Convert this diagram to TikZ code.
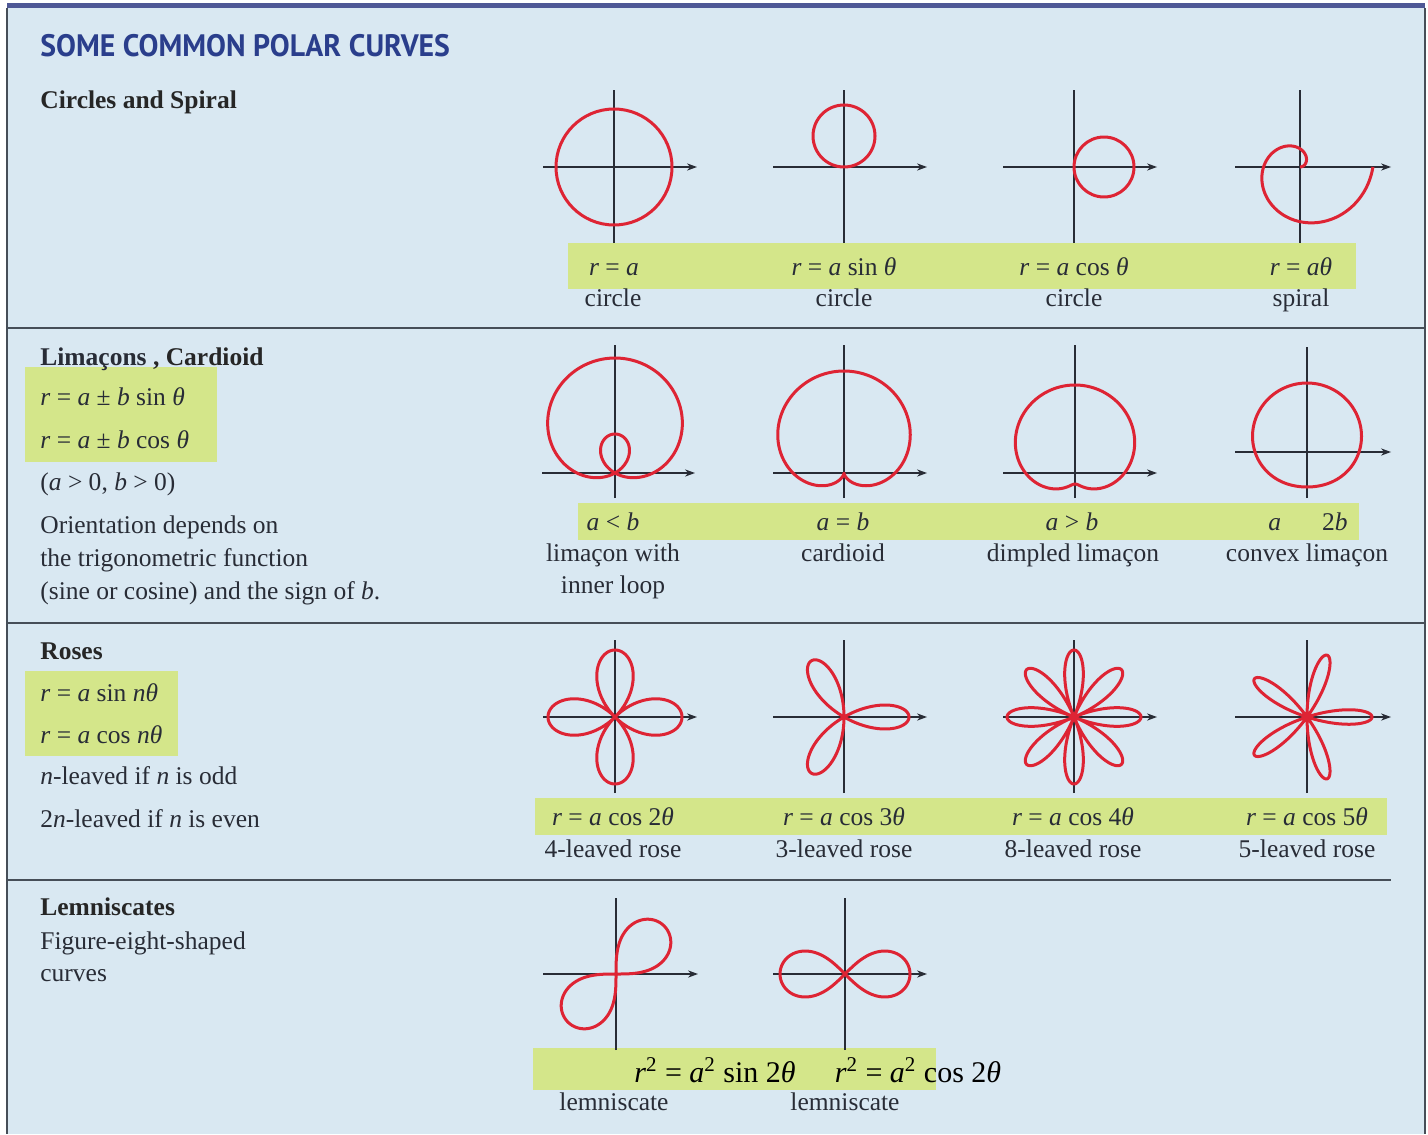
\documentclass[tikz,border=0pt]{standalone}
\usepackage{fontspec}
\setmainfont{Liberation Serif}
\newfontfamily\titlefont{PT Sans}
\usetikzlibrary{arrows.meta}
\definecolor{pBg}{RGB}{217,232,242}
\definecolor{pBar}{RGB}{78,88,150}
\definecolor{pLine}{RGB}{70,78,88}
\definecolor{pGreen}{RGB}{212,230,138}
\definecolor{pRed}{RGB}{222,36,52}
\definecolor{pText}{RGB}{40,44,54}
\definecolor{pTitle}{RGB}{42,62,140}
\newcommand{\mi}[1]{\textit{#1}}
% axes of one small graph: left, right, bottom, top
\newcommand{\polaraxes}[4]{%
  \draw[axisline,-{Stealth[length=5pt,width=3.6pt]}] (#1,0) -- (#2,0);
  \draw[axisline] (0,#3) -- (0,#4);}

\begin{document}
\begin{tikzpicture}[x=0.5pt, y=-0.5pt,
  txt/.style={text=pText, inner sep=0pt, font=\fontsize{12.75}{15}\selectfont},
  lbl/.style={txt, anchor=base},
  side/.style={txt, anchor=base west},
  head/.style={side, text=black!85, font=\fontsize{12.75}{15}\selectfont\bfseries},
  band/.style={fill=pGreen},
  axisline/.style={draw=pText, line width=0.6pt},
  curve/.style={draw=pRed, line width=1.5pt, line join=round}]
  \useasboundingbox (0,0) rectangle (1428,1134);

  % panel
  \fill[white] (0,0) rectangle (1428,1134);
  \fill[pBg] (7,6) rectangle (1425,1134);
  \fill[pBar] (7,3) rectangle (1425,8);
  \draw[pLine, line width=1pt] (7,8) -- (7,1134) (1425,8) -- (1425,1134);
  \draw[pLine, line width=1pt] (7,328) -- (1425,328) (7,623) -- (1425,623) (7,880) -- (1391,880);

  % green bands
  \fill[band] (568,243) rectangle (1356,289);
  \fill[band] (578,503) rectangle (1359,540);
  \fill[band] (535,798) rectangle (1387,835);
  \fill[band] (533,1048) rectangle (936,1090);
  \fill[band] (25,367) rectangle (217,462);
  \fill[band] (25,671) rectangle (178,756);

  % left column
  \node[anchor=base west, inner sep=0pt, xscale=0.96, text=pTitle, font={\titlefont\bfseries\fontsize{15.5}{18}\selectfont}] (title) at (40,57) {SOME COMMON POLAR CURVES};
  \node[head] (hCircles) at (40,109) {Circles and Spiral};
  \node[head] (hLimacon) at (40,365) {\textcolor{pText}{Limaçons} , Cardioid};
  \node[side] (fLimSin) at (40,405) {\mi{r} = \mi{a} ± \mi{b} sin \mi{θ}};
  \node[side] (fLimCos) at (40,448) {\mi{r} = \mi{a} ± \mi{b} cos \mi{θ}};
  \node[side] (cLim) at (40,490) {(\mi{a} > 0, \mi{b} > 0)};
  \node[side] (tLim1) at (40,533) {Orientation depends on};
  \node[side] (tLim2) at (40,566) {the trigonometric function};
  \node[side] (tLim3) at (40,599) {(sine or cosine) and the sign of \mi{b}.};
  \node[head] (hRoses) at (40,659) {Roses};
  \node[side] (fRoseSin) at (40,701) {\mi{r} = \mi{a} sin \mi{nθ}};
  \node[side] (fRoseCos) at (40,743) {\mi{r} = \mi{a} cos \mi{nθ}};
  \node[side] (tRose1) at (40,784) {\mi{n}-leaved if \mi{n} is odd};
  \node[side] (tRose2) at (40,827) {2\mi{n}-leaved if \mi{n} is even};
  \node[head] (hLemn) at (40,915) {Lemniscates};
  \node[side] (tLemn1) at (40,949) {Figure-eight-shaped};
  \node[side] (tLemn2) at (40,981) {curves};

  % circles and spiral
  \begin{scope}[shift={(614,167)}, yscale=-1]
    \polaraxes{-71}{83}{-76}{77}
    \draw[curve] (0,0) circle[radius=58];
  \end{scope}
  \begin{scope}[shift={(844,167)}, yscale=-1]
    \polaraxes{-71}{83}{-76}{77}
    \draw[curve] (0,31) circle[radius=31];
  \end{scope}
  \begin{scope}[shift={(1074,167)}, yscale=-1]
    \polaraxes{-71}{83}{-76}{77}
    \draw[curve] (30,0) circle[radius=30];
  \end{scope}
  \begin{scope}[shift={(1300,167)}, yscale=-1]
    \polaraxes{-65}{91}{-76}{77}
    \draw[curve] plot[domain=0:360, samples=160] ({0.2025*\x*cos(\x)}, {0.2025*\x*sin(\x)});
  \end{scope}
  \node[lbl] (fCircA) at (614,275) {\mi{r} = \mi{a}};
  \node[lbl] (fCircS) at (844,275) {\mi{r} = \mi{a} sin \mi{θ}};
  \node[lbl] (fCircC) at (1074,275) {\mi{r} = \mi{a} cos \mi{θ}};
  \node[lbl] (fSpiral) at (1301,275) {\mi{r} = \mi{aθ}};
  \node[lbl] (nCircA) at (613,306) {circle};
  \node[lbl] (nCircS) at (844,306) {circle};
  \node[lbl] (nCircC) at (1074,306) {circle};
  \node[lbl] (nSpiral) at (1301,306) {spiral};

  % limacons
  \begin{scope}[shift={(615,473)}, yscale=-1]
    \polaraxes{-73}{80}{-25}{128}
    \draw[curve] plot[domain=0:360, samples=240] ({(38+77*sin(\x))*cos(\x)}, {(38+77*sin(\x))*sin(\x)});
  \end{scope}
  \begin{scope}[shift={(844,473)}, yscale=-1]
    \polaraxes{-71}{83}{-25}{128}
    \draw[curve] plot[domain=0:360, samples=240] ({51*(1+sin(\x))*cos(\x)}, {51*(1+sin(\x))*sin(\x)});
  \end{scope}
  \begin{scope}[shift={(1075,473)}, yscale=-1]
    \polaraxes{-72}{82}{-25}{128}
    \draw[curve] plot[domain=0:360, samples=240] ({(49.5+38.5*sin(\x))*cos(\x)}, {(49.5+38.5*sin(\x))*sin(\x)});
  \end{scope}
  \begin{scope}[shift={(1307,452)}, yscale=-1]
    \polaraxes{-72}{84}{-46}{105}
    \draw[curve] plot[domain=0:360, samples=200] ({(52+17*sin(\x))*cos(\x)}, {(52+17*sin(\x))*sin(\x)});
  \end{scope}
  \node[lbl] (cLoop) at (613,530) {\mi{a} < \mi{b}};
  \node[lbl] (cCard) at (843,530) {\mi{a} = \mi{b}};
  \node[lbl] (cDimp) at (1072,530) {\mi{a} > \mi{b}};
  \node[lbl] (cConv) at (1308,530) {\mi{a}\hspace{1.6em}2\mi{b}};
  \node[lbl] (nLoop) at (613,561) {limaçon with};
  \node[lbl] (nLoop2) at (613,593) {inner loop};
  \node[lbl] (nCard) at (843,561) {cardioid};
  \node[lbl] (nDimp) at (1073,561) {dimpled limaçon};
  \node[lbl] (nConv) at (1307,561) {convex limaçon};

  % roses
  \begin{scope}[shift={(615,717)}, yscale=-1]
    \polaraxes{-72}{82}{-76}{77}
    \draw[curve] plot[domain=0:360, samples=300] ({67*cos(2*\x)*cos(\x)}, {67*cos(2*\x)*sin(\x)});
  \end{scope}
  \begin{scope}[shift={(844,717)}, yscale=-1]
    \polaraxes{-71}{83}{-76}{77}
    \draw[curve] plot[domain=0:180, samples=240] ({65*cos(3*\x)*cos(\x)}, {65*cos(3*\x)*sin(\x)});
  \end{scope}
  \begin{scope}[shift={(1074,717)}, yscale=-1]
    \polaraxes{-71}{83}{-76}{77}
    \draw[curve] plot[domain=0:360, samples=480] ({67*cos(4*\x)*cos(\x)}, {67*cos(4*\x)*sin(\x)});
  \end{scope}
  \begin{scope}[shift={(1307,717)}, yscale=-1]
    \polaraxes{-72}{84}{-76}{77}
    \draw[curve] plot[domain=0:180, samples=360] ({65*cos(5*\x)*cos(\x)}, {65*cos(5*\x)*sin(\x)});
  \end{scope}
  \node[lbl] (fRose2) at (613,825) {\mi{r} = \mi{a} cos 2\mi{θ}};
  \node[lbl] (fRose3) at (844,825) {\mi{r} = \mi{a} cos 3\mi{θ}};
  \node[lbl] (fRose4) at (1073,825) {\mi{r} = \mi{a} cos 4\mi{θ}};
  \node[lbl] (fRose5) at (1307,825) {\mi{r} = \mi{a} cos 5\mi{θ}};
  \node[lbl] (nRose2) at (613,857) {4-leaved rose};
  \node[lbl] (nRose3) at (844,857) {3-leaved rose};
  \node[lbl] (nRose4) at (1073,857) {8-leaved rose};
  \node[lbl] (nRose5) at (1307,857) {5-leaved rose};

  % lemniscates
  \begin{scope}[shift={(616,974)}, yscale=-1]
    \polaraxes{-73}{82}{-76}{76}
    \draw[curve, rotate=-45] plot[domain=0:360, samples=240] ({68*cos(\x)/(1+sin(\x)^2)}, {68*sin(\x)*cos(\x)/(1+sin(\x)^2)});
  \end{scope}
  \begin{scope}[shift={(845,974)}, yscale=-1]
    \polaraxes{-72}{82}{-76}{76}
    \draw[curve] plot[domain=0:360, samples=240] ({65*cos(\x)/(1+sin(\x)^2)}, {65*sin(\x)*cos(\x)/(1+sin(\x)^2)});
  \end{scope}
  \node[lbl, text=black, font=\fontsize{15}{18}\selectfont] (fLemnS) at (715,1082) {\mi{r}\textsuperscript{2} = \mi{a}\textsuperscript{2} sin 2\mi{θ}};
  \node[lbl, text=black, font=\fontsize{15}{18}\selectfont] (fLemnC) at (918,1082) {\mi{r}\textsuperscript{2} = \mi{a}\textsuperscript{2} cos 2\mi{θ}};
  \node[lbl] (nLemnS) at (614,1110) {lemniscate};
  \node[lbl] (nLemnC) at (845,1110) {lemniscate};
\end{tikzpicture}
\end{document}
